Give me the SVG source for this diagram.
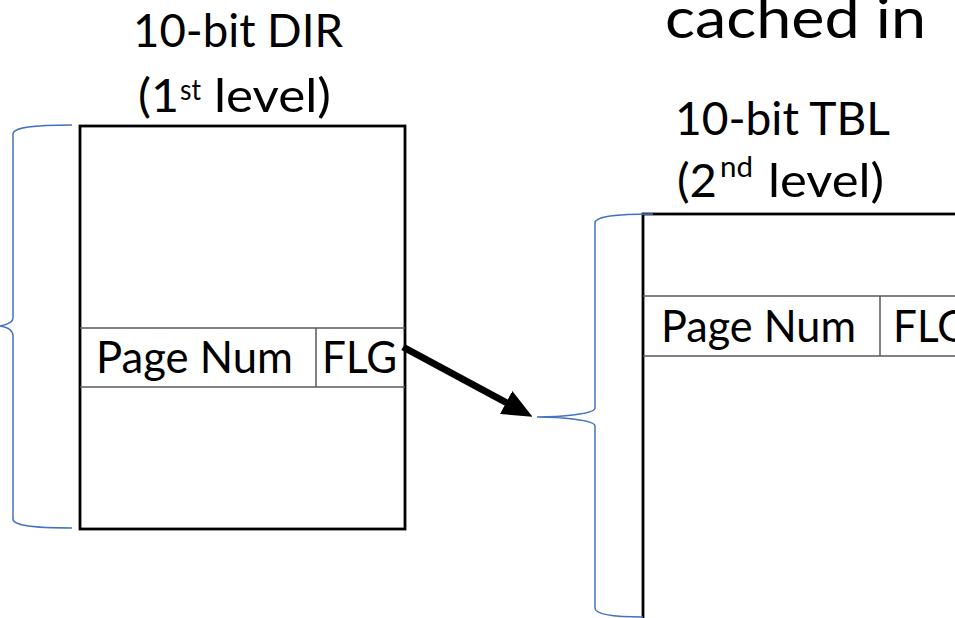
<svg xmlns="http://www.w3.org/2000/svg" width="955" height="618" viewBox="0 0 955 618">
<style>
.t{font-family:Lato,"Liberation Sans",sans-serif;fill:#000}
.big{font-size:46px}
.sup{font-size:28px}
.cell{font-size:44px}
.box{fill:#fff;stroke:#000;stroke-width:2.8}
.row{stroke:#595959;stroke-width:1.5;fill:none}
.brace{fill:none;stroke:#4472C4;stroke-width:1.5}
</style>
<defs>
<marker id="ah" viewBox="0 0 30 26" refX="1" refY="13" markerWidth="30" markerHeight="26" markerUnits="userSpaceOnUse" orient="auto">
<path d="M0,0 L30,13 L0,26 z" fill="#000"/>
</marker>
</defs>
<rect width="955" height="618" fill="#fff"/>

<g id="title-cached">
<text class="t" x="665" y="38" font-size="56" textLength="261" lengthAdjust="spacingAndGlyphs">cached in</text>
</g>

<g id="dir">
<text class="t big" x="133" y="47" textLength="210" lengthAdjust="spacingAndGlyphs">10-bit DIR</text>
<text class="t big" x="138" y="112" textLength="41" lengthAdjust="spacingAndGlyphs">(1</text>
<text class="t sup" x="180" y="100" textLength="21" lengthAdjust="spacingAndGlyphs">st</text>
<text class="t big" x="214" y="112" textLength="117" lengthAdjust="spacingAndGlyphs">level)</text>
<rect class="box" x="80" y="126" width="325" height="403"/>
<path class="row" d="M80,328 H405 M80,387 H405 M316,328 V387"/>
<text class="t cell" x="96" y="373" textLength="197" lengthAdjust="spacingAndGlyphs">Page Num</text>
<text class="t cell" x="322" y="373" textLength="75" lengthAdjust="spacingAndGlyphs">FLG</text>
</g>

<g id="tbl">
<text class="t big" x="675" y="135" textLength="215" lengthAdjust="spacingAndGlyphs">10-bit TBL</text>
<text class="t big" x="677" y="197" textLength="40" lengthAdjust="spacingAndGlyphs">(2</text>
<text class="t sup" x="720" y="177" textLength="33" lengthAdjust="spacingAndGlyphs">nd</text>
<text class="t big" x="768" y="197" textLength="116" lengthAdjust="spacingAndGlyphs">level)</text>
<rect class="box" x="643" y="214" width="330" height="420"/>
<path class="row" d="M643,296 H960 M643,356 H960 M880,296 V356"/>
<text class="t cell" x="661" y="342" textLength="195" lengthAdjust="spacingAndGlyphs">Page Num</text>
<text class="t cell" x="893" y="342" textLength="75" lengthAdjust="spacingAndGlyphs">FLG</text>
</g>

<g id="brace-left">
<path class="brace" d="M72,125 C30,125 13,128 13,134 V318 C13,323 6,325 0,326 C6,327 13,330 13,336 V519 C13,525 30,528 72,528"/>
</g>

<g id="brace-right">
<path class="brace" d="M653,214 C612,214 595,217 595,223 V408 C595,414 560,417 537,417 C560,417 595,420 595,426 V608 C595,614 612,617 643,617"/>
</g>

<g id="connectors">
<path d="M403,347 L507,403" stroke="#000" stroke-width="7" fill="none" marker-end="url(#ah)"/>
</g>
</svg>
